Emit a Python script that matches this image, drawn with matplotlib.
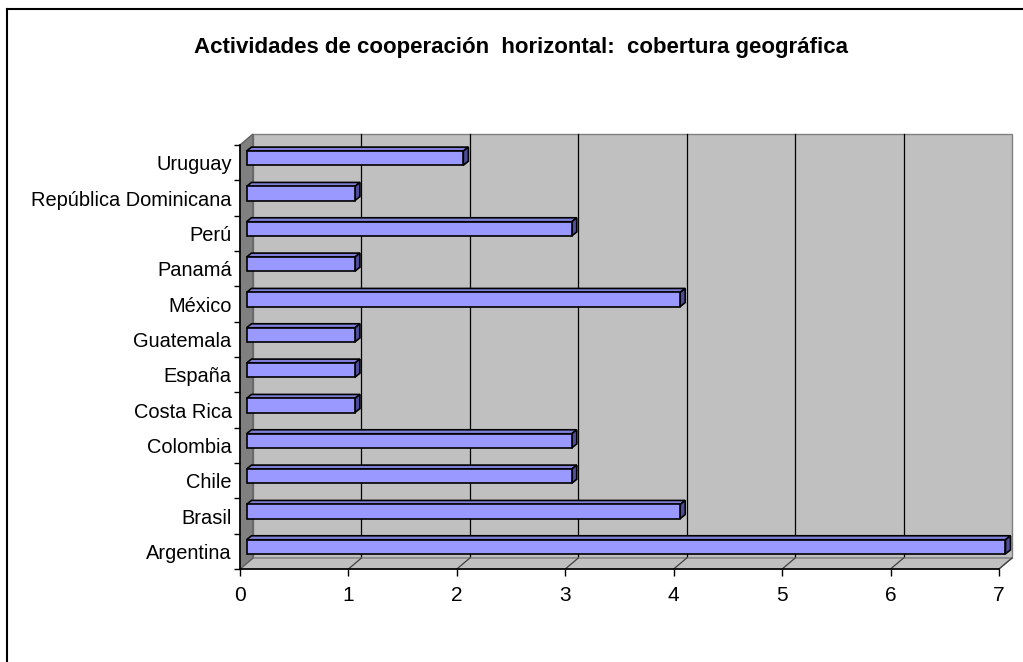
import matplotlib
matplotlib.use('Agg')
import matplotlib.pyplot as plt
import matplotlib.transforms as mtransforms
from matplotlib.patches import Polygon, Rectangle
from matplotlib.lines import Line2D

plt.rcParams['font.family'] = ['Liberation Sans', 'DejaVu Sans']

paises = ['Argentina', 'Brasil', 'Chile', 'Colombia', 'Costa Rica', 'España',
          'Guatemala', 'México', 'Panamá', 'Perú', 'República Dominicana', 'Uruguay']
actividades = [7, 4, 3, 3, 1, 1, 1, 4, 1, 3, 1, 2]
xticks = [0, 1, 2, 3, 4, 5, 6, 7]
titulo = 'Actividades de cooperación  horizontal:  cobertura geográfica'

W, H = 1023, 662
fig = plt.figure(figsize=(W / 100, H / 100), dpi=100)
# front plane of the 3D box, in pixels
left, right, top, bottom = 240, 999, 145, 569
ax = fig.add_axes([left / W, 1 - bottom / H, (right - left) / W, (bottom - top) / H])
ax.set_facecolor('none')
ax.set_xlim(0, 7)
ax.set_ylim(-0.5, len(paises) - 0.5)


def off(dx, dy):
    return mtransforms.ScaledTranslation(dx / 100, dy / 100, fig.dpi_scale_trans)


# depth of the box (pixels) and in axes fraction
depth_x, depth_y = 13, 11
dxa = depth_x / (right - left)
dya = depth_y / (bottom - top)

# back wall
ax.add_patch(Rectangle((0, 0), 1, 1, transform=ax.transAxes + off(depth_x, depth_y),
                       facecolor='#c0c0c0', edgecolor='#808080', lw=1, zorder=0, clip_on=False))
for x in xticks[1:-1]:
    ax.plot([x, x], [-0.5, len(paises) - 0.5], color='black', lw=0.9,
            transform=ax.transData + off(depth_x, depth_y), zorder=0.5, clip_on=False)

# floor and left wall
ax.add_patch(Polygon([(0, 0), (1, 0), (1 + dxa, dya), (dxa, dya)], closed=True,
                     transform=ax.transAxes, facecolor='#c0c0c0', edgecolor='#808080',
                     lw=1, zorder=1, clip_on=False))
ax.add_patch(Polygon([(0, 0), (dxa, dya), (dxa, 1 + dya), (0, 1)], closed=True,
                     transform=ax.transAxes, facecolor='#808080', edgecolor='#606060',
                     lw=1, zorder=1, clip_on=False))
for x in xticks[1:]:
    ax.plot([x / 7, x / 7 + dxa], [0, dya], color='#404040', lw=0.9,
            transform=ax.transAxes, zorder=1.2, clip_on=False)

# bars (mid depth plane)
bar_off = off(6.5, 4.5)
h = 0.4
bars = ax.barh(range(len(paises)), actividades, height=h, color='#9999ff',
               edgecolor='black', lw=1.2, zorder=3)
for p in bars:
    p.set_transform(ax.transData + bar_off)
    p.set_clip_on(False)

ppx = (right - left) / 7
ppy = (bottom - top) / len(paises)
bdx, bdy = 5 / ppx, 4 / ppy
for i, v in enumerate(actividades):
    yt, yb = i + h / 2, i - h / 2
    ax.add_patch(Polygon([(0, yt), (v, yt), (v + bdx, yt + bdy), (bdx, yt + bdy)],
                         closed=True, facecolor='#8080d8', edgecolor='black', lw=1.2,
                         transform=ax.transData + bar_off, zorder=2.9, clip_on=False))
    ax.add_patch(Polygon([(v, yb), (v + bdx, yb + bdy), (v + bdx, yt + bdy), (v, yt)],
                         closed=True, facecolor='#4d4d99', edgecolor='black', lw=1.2,
                         transform=ax.transData + bar_off, zorder=2.9, clip_on=False))

# axes
for s in ['top', 'right']:
    ax.spines[s].set_visible(False)
for s in ['left', 'bottom']:
    ax.spines[s].set_color('black')
    ax.spines[s].set_linewidth(1.2)
    ax.spines[s].set_zorder(2)

ax.set_xticks(xticks)
ax.set_xticklabels([str(x) for x in xticks], fontsize=15)
ax.tick_params(axis='x', length=5, width=1, pad=7, colors='black')
ax.set_yticks(range(len(paises)))
ax.set_yticklabels(paises, fontsize=14.4)
ax.set_yticks([i - 0.5 for i in range(len(paises) + 1)], minor=True)
ax.tick_params(axis='y', which='major', length=0, pad=6)
ax.tick_params(axis='y', which='minor', length=4.5, width=1, color='black')

fig.text(521 / W, 1 - 47 / H, titulo, ha='center', va='center',
         fontsize=16, fontweight='bold')

# outer chart border (top and left)
fig.add_artist(Line2D([7 / W, 1], [1 - 9 / H, 1 - 9 / H], transform=fig.transFigure,
                      color='black', lw=1.5))
fig.add_artist(Line2D([7 / W, 7 / W], [0, 1 - 9 / H], transform=fig.transFigure,
                      color='black', lw=1.5))

fig.savefig('out.png', dpi=100)
